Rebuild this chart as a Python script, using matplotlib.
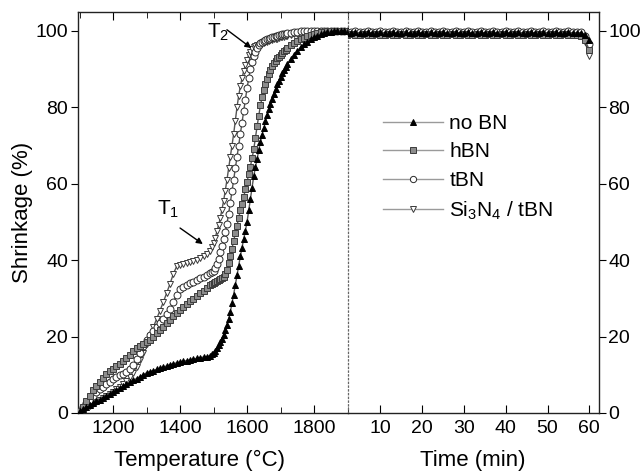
import numpy as np
import matplotlib
matplotlib.use("Agg")
import matplotlib.pyplot as plt
from matplotlib.ticker import MultipleLocator

plt.rcParams["font.family"] = ["Liberation Sans", "DejaVu Sans"]
plt.rcParams["mathtext.default"] = "regular"

# =============================
# DATA
# =============================
# heating part: 10 degC steps, 5 degC steps in the steep part
temp = np.concatenate([np.arange(1100, 1490, 10),
                       np.arange(1490, 1720, 5),
                       np.arange(1720, 1910, 10)])

no_bn = [0.5, 1.0, 1.5, 2.0, 2.5, 3.0, 3.5, 4.0, 4.5, 5.0,
         5.5, 6.0, 6.5, 7.0, 7.5, 8.0, 8.5, 9.0, 9.5, 10.0,
         10.5, 10.8, 11.1, 11.4, 11.7, 12.0, 12.3, 12.6, 12.9, 13.1,
         13.3, 13.5, 13.7, 13.9, 14.1, 14.3, 14.5, 14.6, 14.7,
         # 1490 .. 1715 (5 degC)
         15.0, 15.3, 15.8, 16.3, 17.0, 17.7, 18.5, 19.4, 20.5, 21.7,
         23.0, 24.6, 26.5, 28.7, 31.0, 33.5, 36.0, 38.5, 41.0, 43.3,
         45.5, 47.7, 50.0, 53.0, 56.0, 59.0, 62.0, 64.3, 66.5, 68.8,
         71.0, 72.8, 74.5, 76.3, 78.0, 79.5, 81.0, 82.3, 83.5, 84.8,
         86.0, 87.0, 88.0, 88.9, 89.8, 90.6,
         # 1720 .. 1900
         91.3, 92.6, 93.8, 94.8, 95.7, 96.5, 97.2, 97.8, 98.3, 98.7,
         99.1, 99.4, 99.6, 99.8, 99.9, 100.0, 100.0, 100.0, 100.0]

hbn = [0.5, 1.5, 3.0, 4.5, 6.0, 7.0, 8.0, 9.2, 10.3, 11.0,
       11.6, 12.2, 12.8, 13.5, 14.3, 15.2, 16.1, 17.0, 17.6, 18.1,
       18.6, 19.2, 19.9, 20.8, 21.7, 22.6, 23.5, 24.4, 25.3, 26.1,
       26.9, 27.7, 28.5, 29.2, 29.9, 30.6, 31.3, 32.0, 32.7,
       33.4, 33.7, 34.0, 34.3, 34.6, 34.9, 35.1, 35.3, 35.6, 36.4,
       37.5, 39.2, 41.0, 43.0, 45.0, 47.0, 49.0, 51.0, 53.0, 54.7,
       56.5, 58.5, 60.5, 62.5, 64.5, 66.7, 69.0, 72.0, 75.0, 77.8,
       80.5, 82.6, 84.5, 86.0, 87.5, 88.7, 89.8, 90.7, 91.5, 92.2,
       92.8, 93.3, 93.8, 94.3, 94.7, 95.1,
       95.5, 96.2, 96.8, 97.3, 97.8, 98.2, 98.6, 99.0, 99.3, 99.5,
       99.7, 99.8, 99.9, 100.0, 100.0, 100.0, 100.0, 100.0, 100.0]

tbn = [0.5, 1.5, 2.5, 3.5, 4.5, 5.5, 6.2, 6.9, 7.6, 8.2,
       8.8, 9.3, 9.8, 10.3, 10.8, 11.5, 12.5, 14.0, 15.8, 17.5,
       19.0, 20.3, 21.5, 22.6, 23.6, 24.6, 25.8, 27.2, 29.0, 31.0,
       32.5, 33.0, 33.5, 34.0, 34.4, 34.8, 35.2, 35.6, 36.0,
       36.5, 36.8, 37.2, 38.0, 39.0, 40.4, 42.0, 43.7, 45.5, 47.4,
       49.5, 52.2, 55.0, 58.0, 61.0, 64.0, 67.0, 70.0, 73.0, 76.0,
       79.0, 82.0, 85.0, 87.6, 90.0, 91.9, 93.5, 94.6, 95.5, 96.2,
       96.8, 97.1, 97.3, 97.6, 97.8, 98.0, 98.2, 98.4, 98.5, 98.7,
       98.8, 98.9, 99.0, 99.1, 99.2, 99.3,
       99.4, 99.5, 99.7, 99.8, 99.9, 100.0, 100.0, 100.0, 100.0, 100.0,
       100.0, 100.0, 100.0, 100.0, 100.0, 100.0, 100.0, 100.0, 100.0]

si3n4_tbn = [0.3, 0.8, 1.3, 1.8, 2.3, 2.8, 3.3, 3.8, 4.4, 5.0,
             5.6, 6.2, 6.8, 7.5, 8.3, 9.3, 10.5, 12.0, 13.8, 15.8,
             18.0, 20.2, 22.4, 24.6, 26.8, 29.0, 31.4, 33.8, 36.4, 38.4,
             38.8, 39.0, 39.2, 39.5, 39.8, 40.1, 40.5, 41.0, 41.5,
             42.5, 43.4, 44.5, 45.9, 47.5, 49.2, 51.0, 53.2, 55.5, 58.2,
             61.0, 64.0, 67.0, 70.0, 73.0, 76.5, 80.0, 83.0, 85.5, 87.6,
             89.5, 91.1, 92.5, 93.6, 94.5, 95.2, 95.7, 96.0, 96.2, 96.4,
             96.6, 96.8, 96.9, 97.1, 97.2, 97.4, 97.5, 97.7, 97.8, 97.9,
             98.0, 98.2, 98.3, 98.4, 98.5, 98.6,
             98.7, 98.9, 99.1, 99.3, 99.4, 99.5, 99.6, 99.7, 99.8, 99.9,
             100.0, 100.0, 100.0, 100.0, 100.0, 100.0, 100.0, 100.0, 100.0]

# dwell part, every minute (2 .. 60 min)
time = np.arange(2, 61, 1)

no_bn_t = [99.5, 99.5, 99.6, 99.5, 99.5, 99.6, 99.5, 99.5, 99.6, 99.5,
           99.5, 99.6, 99.5, 99.5, 99.6, 99.5, 99.5, 99.6, 99.5, 99.5,
           99.6, 99.5, 99.5, 99.6, 99.5, 99.5, 99.6, 99.5, 99.5, 99.6,
           99.5, 99.5, 99.6, 99.5, 99.5, 99.6, 99.5, 99.5, 99.6, 99.5,
           99.5, 99.6, 99.5, 99.5, 99.6, 99.5, 99.5, 99.6, 99.5, 99.5,
           99.6, 99.5, 99.5, 99.6, 99.5, 99.5, 99.4, 99.0, 97.5]

hbn_t = [99.0, 99.1, 99.0, 99.0, 99.1, 99.0, 99.0, 99.1, 99.0, 99.0,
         99.1, 99.0, 99.0, 99.1, 99.0, 99.0, 99.1, 99.0, 99.0, 99.1,
         99.0, 99.0, 99.1, 99.0, 99.0, 99.1, 99.0, 99.0, 99.1, 99.0,
         99.0, 99.1, 99.0, 99.0, 99.1, 99.0, 99.0, 99.1, 99.0, 99.0,
         99.1, 99.0, 99.0, 99.1, 99.0, 99.0, 99.1, 99.0, 99.0, 99.1,
         99.0, 99.0, 99.1, 99.0, 99.0, 99.0, 98.8, 97.5, 95.0]

tbn_t = [99.8, 99.8, 99.9, 99.8, 99.8, 99.9, 99.8, 99.8, 99.9, 99.8,
         99.8, 99.9, 99.8, 99.8, 99.9, 99.8, 99.8, 99.9, 99.8, 99.8,
         99.9, 99.8, 99.8, 99.9, 99.8, 99.8, 99.9, 99.8, 99.8, 99.9,
         99.8, 99.8, 99.9, 99.8, 99.8, 99.9, 99.8, 99.8, 99.9, 99.8,
         99.8, 99.9, 99.8, 99.8, 99.9, 99.8, 99.8, 99.9, 99.8, 99.8,
         99.9, 99.8, 99.8, 99.9, 99.8, 99.8, 99.6, 98.8, 96.5]

si3n4_tbn_t = [99.3, 99.3, 99.4, 99.3, 99.3, 99.4, 99.3, 99.3, 99.4, 99.3,
               99.3, 99.4, 99.3, 99.3, 99.4, 99.3, 99.3, 99.4, 99.3, 99.3,
               99.4, 99.3, 99.3, 99.4, 99.3, 99.3, 99.4, 99.3, 99.3, 99.4,
               99.3, 99.3, 99.4, 99.3, 99.3, 99.4, 99.3, 99.3, 99.4, 99.3,
               99.3, 99.4, 99.3, 99.3, 99.4, 99.3, 99.3, 99.4, 99.3, 99.3,
               99.4, 99.3, 99.3, 99.4, 99.3, 99.3, 99.0, 97.0, 93.5]

labels = ["no BN", "hBN", "tBN", "Si$_3$N$_4$ / tBN"]
heating = [no_bn, hbn, tbn, si3n4_tbn]
dwell = [no_bn_t, hbn_t, tbn_t, si3n4_tbn_t]

# =============================
# STYLE
# =============================
styles = [
    dict(marker="^", mfc="black", mec="black"),
    dict(marker="s", mfc="#8c8c8c", mec="#3c3c3c"),
    dict(marker="o", mfc="white", mec="#2a2a2a"),
    dict(marker="v", mfc="white", mec="#3a3a3a"),
]
zorders = [6, 5, 4, 3]

fig = plt.figure(figsize=(6.44, 4.73), dpi=100)
ax1 = fig.add_axes([0.121, 0.127, 0.4186, 0.848])
ax2 = fig.add_axes([0.5396, 0.127, 0.3898, 0.848])
ax2.patch.set_visible(False)

handles = []
for vals, vals_t, lab, st, z in zip(heating, dwell, labels, styles, zorders):
    ax1.plot(temp, vals, color="#555555", lw=1.0, ms=5, mew=0.7,
             zorder=z, **st)
    ax2.plot(time, vals_t, color="#555555", lw=1.0, ms=5, mew=0.7,
             zorder=z, **st)
    # lighter handle for the legend
    h, = ax2.plot([], [], color="#9a9a9a", lw=1.0, ms=4.5, mew=0.7,
                  label=lab, **st)
    handles.append(h)

# =============================
# AXES
# =============================
for ax in (ax1, ax2):
    ax.set_ylim(0, 105)
    ax.set_yticks(range(0, 101, 20))
    for s in ax.spines.values():
        s.set_linewidth(1.0)
        s.set_color("#222222")

ax1.set_xlim(1095, 1900)
ax1.set_xticks([1200, 1400, 1600, 1800])
ax1.xaxis.set_minor_locator(MultipleLocator(100))
ax1.tick_params(axis="x", which="both", direction="in", top=True,
                labelsize=14, pad=5)
ax1.tick_params(axis="x", which="major", length=6)
ax1.tick_params(axis="x", which="minor", length=4)
ax1.tick_params(axis="y", direction="out", length=5, labelsize=14, pad=2,
                right=False)
ax1.spines["right"].set_linestyle((0, (1, 2)))
ax1.spines["right"].set_color("#666666")
ax1.spines["right"].set_linewidth(0.9)
ax1.spines["right"].set_zorder(8)

ax2.set_xlim(2.1, 62.2)
ax2.set_xticks(range(10, 61, 10))
ax2.tick_params(axis="x", direction="in", top=True, length=6,
                labelsize=14, pad=5)
ax2.yaxis.tick_right()
ax2.tick_params(axis="y", direction="out", length=5, labelsize=14, pad=2,
                left=False)
ax2.spines["left"].set_visible(False)

ax1.set_xlabel("Temperature (°C)", fontsize=16)
ax1.xaxis.set_label_coords(0.45, -0.092)
ax2.set_xlabel("Time (min)", fontsize=16)
ax2.xaxis.set_label_coords(0.5, -0.092)
ax1.set_ylabel("Shrinkage (%)", fontsize=16, labelpad=2)

# =============================
# ANNOTATIONS T1 / T2
# =============================
ax1.text(1331, 51.8, "T$_1$", fontsize=15, ha="left", va="baseline")
ax1.annotate("", xy=(1468, 44.2), xytext=(1400, 48.4),
             arrowprops=dict(arrowstyle="-|>", color="black", lw=1.0,
                             mutation_scale=9, shrinkA=0, shrinkB=0),
             zorder=10)
ax1.text(1480, 98.2, "T$_2$", fontsize=15, ha="left", va="baseline")
ax1.annotate("", xy=(1613, 95.5), xytext=(1540, 100.3),
             arrowprops=dict(arrowstyle="-|>", color="black", lw=1.0,
                             mutation_scale=9, shrinkA=0, shrinkB=0),
             zorder=10)

# =============================
# LEGEND
# =============================
ax2.legend(handles, labels, loc="upper left", bbox_to_anchor=(0.14, 0.745),
           frameon=False, fontsize=15, handlelength=2.9, handletextpad=0.3,
           labelspacing=0.45, borderaxespad=0, borderpad=0, numpoints=1)

fig.savefig("out.png", dpi=100)
